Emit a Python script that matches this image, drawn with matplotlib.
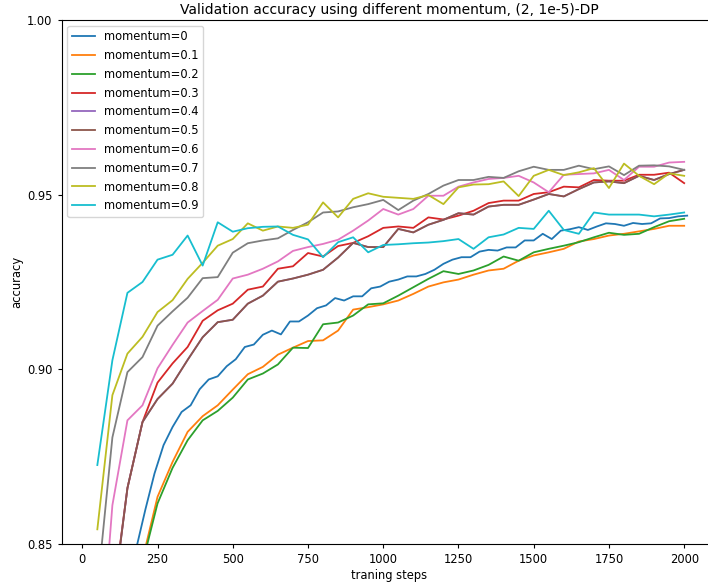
import matplotlib
matplotlib.use("Agg")
import matplotlib.pyplot as plt
from matplotlib.ticker import FormatStrFormatter

# x positions (training steps)
steps = [50 * i for i in range(1, 41)]
steps_m0 = [30 * i for i in range(1, 68)]

acc_m0 = [0.660, 0.700, 0.740, 0.790, 0.826, 0.849, 0.860, 0.8702,
          0.8783, 0.8835, 0.8878, 0.8897, 0.8943, 0.8971, 0.8980, 0.9009, 0.9029, 0.9064,
          0.9071, 0.9099, 0.9111, 0.9100, 0.9137, 0.9137, 0.9154, 0.9175, 0.9183, 0.9204,
          0.9197, 0.9209, 0.9209, 0.9232, 0.9237, 0.9251, 0.9257, 0.9266, 0.9266, 0.9273,
          0.9285, 0.9302, 0.9314, 0.9321, 0.9321, 0.9337, 0.9342, 0.9340, 0.9349, 0.9349,
          0.9369, 0.9369, 0.9388, 0.9373, 0.9397, 0.9401, 0.9407, 0.9399, 0.9409, 0.9418,
          0.9416, 0.9411, 0.9419, 0.9416, 0.9418, 0.9432, 0.9433, 0.9438, 0.9440]

acc_m01 = [0.740, 0.780, 0.815, 0.8455, 0.8635, 0.8735, 0.8821, 0.8866, 0.8897, 0.8942,
           0.8986, 0.9007, 0.9042, 0.9062, 0.9081, 0.9083, 0.9111, 0.9171, 0.9178, 0.9186,
           0.9197, 0.9216, 0.9237, 0.9249, 0.9257, 0.9271, 0.9283, 0.9288, 0.9311, 0.9326,
           0.9335, 0.9345, 0.9366, 0.9373, 0.9383, 0.9388, 0.9395, 0.9402, 0.9411, 0.9411]

acc_m02 = [0.730, 0.775, 0.810, 0.8445, 0.8616, 0.8718, 0.8797, 0.8854, 0.8881, 0.8919,
           0.8971, 0.8988, 0.9014, 0.9062, 0.9061, 0.9129, 0.9134, 0.9154, 0.9186, 0.9189,
           0.9211, 0.9235, 0.9259, 0.9281, 0.9273, 0.9283, 0.9299, 0.9323, 0.9311, 0.9335,
           0.9345, 0.9354, 0.9364, 0.9378, 0.9391, 0.9385, 0.9388, 0.9407, 0.9424, 0.9431]

acc_m03 = [0.790, 0.833, 0.8660, 0.8849, 0.8962, 0.9017, 0.9064, 0.9139, 0.9169, 0.9188,
           0.9228, 0.9237, 0.9288, 0.9295, 0.9333, 0.9323, 0.9353, 0.9362, 0.9381, 0.9405,
           0.9409, 0.9405, 0.9435, 0.9429, 0.9440, 0.9454, 0.9476, 0.9483, 0.9483, 0.9502,
           0.9507, 0.9523, 0.9521, 0.9542, 0.9540, 0.9540, 0.9557, 0.9557, 0.9563, 0.9533]

acc_m05 = [0.790, 0.832, 0.8660, 0.8849, 0.8915, 0.8959, 0.9027, 0.9092, 0.9135, 0.9142,
           0.9188, 0.9211, 0.9251, 0.9260, 0.9271, 0.9285, 0.9320, 0.9362, 0.9350, 0.9350,
           0.9402, 0.9392, 0.9414, 0.9428, 0.9447, 0.9443, 0.9466, 0.9471, 0.9471, 0.9486,
           0.9502, 0.9495, 0.9516, 0.9535, 0.9538, 0.9533, 0.9554, 0.9542, 0.9559, 0.9571]

acc_m04 = [0.790, 0.832, 0.8660, 0.8849, 0.8915, 0.8959, 0.9027, 0.9092, 0.9135, 0.9142,
           0.9188, 0.9211, 0.9251, 0.9260, 0.9271, 0.9285, 0.9320, 0.9362, 0.9350, 0.9350,
           0.9402, 0.9392, 0.9414, 0.9428, 0.9447, 0.9443, 0.9466, 0.9471, 0.9471, 0.9486,
           0.9502, 0.9495, 0.9516, 0.9535, 0.9538, 0.9533, 0.9554, 0.9542, 0.9559, 0.9571]

acc_m06 = [0.8056, 0.8611, 0.8854, 0.8897, 0.9003, 0.9070, 0.9134, 0.9167, 0.9199, 0.9260,
           0.9271, 0.9288, 0.9309, 0.9339, 0.9350, 0.9359, 0.9371, 0.9397, 0.9426, 0.9459,
           0.9443, 0.9459, 0.9497, 0.9497, 0.9523, 0.9535, 0.9545, 0.9548, 0.9554, 0.9535,
           0.9507, 0.9557, 0.9559, 0.9561, 0.9571, 0.9542, 0.9580, 0.9580, 0.9592, 0.9594]

acc_m07 = [0.837, 0.8805, 0.8992, 0.9035, 0.9125, 0.9166, 0.9205, 0.9261, 0.9264, 0.9334,
           0.9361, 0.9369, 0.9375, 0.9399, 0.9421, 0.9449, 0.9452, 0.9464, 0.9473, 0.9485,
           0.9456, 0.9483, 0.9502, 0.9526, 0.9542, 0.9542, 0.9551, 0.9548, 0.9567, 0.9580,
           0.9571, 0.9571, 0.9583, 0.9573, 0.9581, 0.9556, 0.9583, 0.9584, 0.9581, 0.9571]

acc_m08 = [0.8542, 0.8926, 0.9045, 0.9093, 0.9164, 0.9198, 0.9259, 0.9305, 0.9354, 0.9373,
           0.9418, 0.9397, 0.9409, 0.9405, 0.9414, 0.9478, 0.9435, 0.9488, 0.9504, 0.9494,
           0.9491, 0.9488, 0.9499, 0.9473, 0.9521, 0.9529, 0.9530, 0.9538, 0.9496, 0.9554,
           0.9571, 0.9556, 0.9564, 0.9576, 0.9519, 0.9589, 0.9554, 0.9530, 0.9561, 0.9554]

acc_m09 = [0.8726, 0.9026, 0.9219, 0.9250, 0.9314, 0.9328, 0.9383, 0.9297, 0.9421, 0.9394,
           0.9404, 0.9408, 0.9409, 0.9385, 0.9372, 0.9321, 0.9364, 0.9378, 0.9335, 0.9356,
           0.9358, 0.9361, 0.9363, 0.9367, 0.9373, 0.9345, 0.9378, 0.9386, 0.9405, 0.9402,
           0.9454, 0.9399, 0.9388, 0.9449, 0.9443, 0.9443, 0.9443, 0.9438, 0.9443, 0.9449]

labels = ["momentum=0", "momentum=0.1", "momentum=0.2", "momentum=0.3", "momentum=0.4",
          "momentum=0.5", "momentum=0.6", "momentum=0.7", "momentum=0.8", "momentum=0.9"]
x_ticks = [0, 250, 500, 750, 1000, 1250, 1500, 1750, 2000]
y_ticks = [0.85, 0.90, 0.95, 1.00]

fig = plt.figure(figsize=(7.08, 5.82), dpi=100)
ax = fig.add_axes([0.0869, 0.0653, 0.9258, 0.9003])

series = [(steps_m0, acc_m0), (steps, acc_m01), (steps, acc_m02), (steps, acc_m03),
          (steps, acc_m04), (steps, acc_m05), (steps, acc_m06), (steps, acc_m07),
          (steps, acc_m08), (steps, acc_m09)]
for (xs, ys), lab in zip(series, labels):
    ax.plot(xs, ys, label=lab, linewidth=1.3)

ax.set_xlim(-69, 2109)
ax.set_ylim(0.85, 1.0)
ax.set_xticks(x_ticks)
ax.set_yticks(y_ticks)
ax.yaxis.set_major_formatter(FormatStrFormatter('%.2f'))
ax.tick_params(labelsize=8.3, length=3)
ax.set_xlabel("traning steps", fontsize=8.3, labelpad=2)
ax.set_ylabel("accuracy", fontsize=8.3, labelpad=3)
ax.set_title("Validation accuracy using different momentum, (2, 1e-5)-DP", fontsize=10, pad=4)
ax.legend(loc="upper left", fontsize=8.3)

fig.savefig("out.png", dpi=100)
